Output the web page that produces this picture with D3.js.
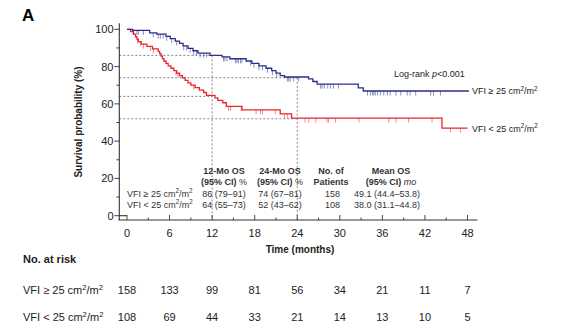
<!DOCTYPE html>
<html>
<head>
<meta charset="utf-8">
<script src="https://cdn.jsdelivr.net/npm/d3@7"></script>
<style>
  body { margin: 0; background: #fff; }
  svg { font-family: "Liberation Sans", Arial, sans-serif; }
</style>
</head>
<body>
<div id="km"></div>
<script>
// grupe
const groups = ["VFI ≥ 25 cm²/m²", "VFI < 25 cm²/m²"];
const xTicks = [0, 6, 12, 18, 24, 30, 36, 42, 48];
const yTicks = [0, 20, 40, 60, 80, 100];

// koraci krivulja [mjesec, prezivljenje %]
const highSteps = [[0.8, 99.4], [3.2, 98.1], [4.2, 97.4], [5.5, 96.2], [6.1, 95.0], [6.8, 93.7],
  [7.4, 92.4], [7.9, 91.1], [8.6, 89.8], [9.3, 88.5], [10.0, 87.2], [11.7, 86.0], [13.4, 85.2],
  [14.5, 84.2], [16.8, 83.0], [17.6, 81.7], [18.6, 80.4], [19.6, 79.1], [20.4, 77.8], [21.0, 76.5],
  [21.6, 75.2], [22.2, 74.4], [25.6, 73.4], [26.2, 72.0], [26.8, 70.6], [32.6, 68.6], [33.3, 66.9]];
const lowSteps = [[0.5, 98.7], [0.9, 97.4], [1.2, 96.0], [1.4, 94.7], [1.6, 93.4], [2.0, 92.1],
  [2.8, 90.8], [3.6, 89.5], [4.4, 88.2], [4.6, 86.9], [4.8, 85.6], [5.0, 84.3], [5.2, 83.0],
  [5.5, 81.7], [5.8, 80.4], [6.2, 79.1], [6.6, 77.8], [7.0, 76.5], [7.4, 75.2], [7.8, 73.9],
  [8.2, 72.6], [8.6, 71.3], [9.0, 70.0], [9.6, 68.7], [10.2, 67.4], [10.8, 66.1], [11.2, 64.6],
  [12.4, 63.2], [12.8, 61.9], [13.5, 60.6], [14.0, 58.6], [16.2, 56.8], [21.6, 54.6],
  [23.2, 52.4], [44.4, 47.0]];
const highEnd = 48.2;
const lowEnd = 48.0;

// cenzurirani
const highCensored = [0.9, 1.4, 1.6, 2.3, 3.7, 4.4, 4.7, 5.1, 5.6, 6.3, 7.0, 8.0, 8.4, 8.9, 9.4,
  9.8, 10.3, 10.8, 11.2, 13.6, 13.8, 14.1, 15.3, 15.5, 15.7, 16.0, 16.2, 17.4, 17.9, 18.6, 19.1,
  19.8, 20.5, 21.1, 22.6, 22.8, 23.0, 23.5, 24.2, 27.3, 27.5, 27.8, 28.3, 28.7, 29.1, 29.8, 33.9,
  34.3, 34.6, 34.8, 35.0, 35.3, 35.7, 36.2, 36.7, 37.1, 37.9, 38.6, 39.5, 39.9, 40.7, 42.8, 43.2, 44.2];
const lowCensored = [1.5, 1.9, 2.3, 3.3, 3.7, 6.9, 7.2, 9.4, 14.3, 14.6, 16.1, 18.2, 18.8, 19.1,
  20.9, 22.2, 22.6, 25.1, 25.6, 26.6, 28.2, 28.4, 29.4, 32.7, 36.9, 37.9, 39.7, 43.0, 45.6, 47.0];

// 12 i 24 mj. OS
const os12 = [86, 64];
const os24 = [74, 52];
const os12Text = ["86 (79–91)", "64 (55–73)"];
const os24Text = ["74 (67–81)", "52 (43–62)"];
const patients = [158, 108];
const meanOsText = ["49.1 (44.4–53.8)", "38.0 (31.1–44.8)"];

// broj pod rizikom
const atRiskHigh = [158, 133, 99, 81, 56, 34, 21, 11, 7];
const atRiskLow = [108, 69, 44, 33, 21, 14, 13, 10, 5];

const blue = "#2b2e8a";
const red = "#e8262b";

const width = 567, height = 332;
const svg = d3.select("#km").append("svg")
  .attr("width", width)
  .attr("height", height);

const x = d3.scaleLinear().domain([0, 48]).range([127, 467.5]);
const y = d3.scaleLinear().domain([0, 100]).range([215.7, 29.3]);
const axisY = 220, axisX = 119.3;

// slovo panela
svg.append("text").attr("x", 22).attr("y", 21)
  .attr("font-size", 17).attr("font-weight", "bold").text("A");

// isprekidane linije za 12 i 24 mj.
const dash = svg.append("g").attr("stroke", "#666").attr("stroke-width", 0.8)
  .attr("stroke-dasharray", "2,2").attr("fill", "none");
os12.forEach(v => dash.append("line").attr("x1", axisX).attr("x2", x(12)).attr("y1", y(v)).attr("y2", y(v)));
os24.forEach(v => dash.append("line").attr("x1", axisX).attr("x2", x(24)).attr("y1", y(v)).attr("y2", y(v)));
dash.append("line").attr("x1", x(12)).attr("x2", x(12)).attr("y1", y(d3.max(os12))).attr("y2", axisY);
dash.append("line").attr("x1", x(24)).attr("x2", x(24)).attr("y1", y(d3.max(os24))).attr("y2", axisY);

// osi
const ax = svg.append("g").attr("stroke", "#333").attr("stroke-width", 1.1);
ax.append("line").attr("x1", axisX).attr("x2", axisX).attr("y1", y(100) - 6).attr("y2", axisY);
ax.append("line").attr("x1", axisX - 1).attr("x2", x(48) + 10).attr("y1", axisY).attr("y2", axisY);
ax.append("line").attr("x1", axisX).attr("x2", x(0)).attr("y1", y(0)).attr("y2", y(0));

d3.range(0, 101, 10).forEach(v => {
  ax.append("line").attr("x1", axisX - (v % 20 === 0 ? 5 : 3)).attr("x2", axisX)
    .attr("y1", y(v)).attr("y2", y(v)).attr("stroke-width", 0.9);
});
d3.range(0, 49, 3).forEach(v => {
  ax.append("line").attr("x1", x(v)).attr("x2", x(v))
    .attr("y1", axisY).attr("y2", axisY - (v % 6 === 0 ? 5 : 2.5)).attr("stroke-width", 0.9);
});

svg.append("g").selectAll("text").data(yTicks).join("text")
  .attr("x", 113.5).attr("y", d => y(d) + 4)
  .attr("text-anchor", "end").attr("font-size", 11).attr("fill", "#222")
  .text(d => d);
svg.append("g").selectAll("text").data(xTicks).join("text")
  .attr("x", d => x(d)).attr("y", 237)
  .attr("text-anchor", "middle").attr("font-size", 11).attr("fill", "#222")
  .text(d => d);

svg.append("text").attr("x", 300).attr("y", 252.5).attr("text-anchor", "middle")
  .attr("font-size", 10).attr("font-weight", "bold").attr("fill", "#222").text("Time (months)");
svg.append("text").attr("transform", "translate(81.5,122) rotate(-90)").attr("text-anchor", "middle")
  .attr("font-size", 10).attr("font-weight", "bold").attr("fill", "#222").text("Survival probability (%)");

// krivulje
function levelAt(steps, t) {
  let s = 100;
  steps.forEach(d => { if (d[0] <= t) s = d[1]; });
  return s;
}
const line = d3.line().x(d => x(d[0])).y(d => y(d[1])).curve(d3.curveStepAfter);

function drawCurve(steps, end, censored, color) {
  const pts = [[0, 100], ...steps, [end, steps[steps.length - 1][1]]];
  svg.append("path").datum(pts).attr("d", line)
    .attr("fill", "none").attr("stroke", color).attr("stroke-width", 1.3);
  svg.append("g").selectAll("line").data(censored).join("line")
    .attr("x1", d => x(d)).attr("x2", d => x(d))
    .attr("y1", d => y(levelAt(steps, d))).attr("y2", d => y(levelAt(steps, d)) + 4.5)
    .attr("stroke", color).attr("stroke-width", 0.9).attr("opacity", 0.6);
}
drawCurve(lowSteps, lowEnd, lowCensored, red);
drawCurve(highSteps, highEnd, highCensored, blue);

// oznake krivulja
const lbl = svg.append("g").attr("font-size", 9).attr("fill", "#222");
function supLabel(g, text, xx, yy, size) {
  const t = g.append("text").attr("x", xx).attr("y", yy).attr("font-size", size);
  const parts = text.split(/(²)/);
  parts.forEach(p => {
    if (p === "²") t.append("tspan").attr("font-size", size * 0.7).attr("dy", -size * 0.35).text("2");
    else if (p) {
      const sp = t.append("tspan").text(p);
      if (t.node().childNodes.length > 1 && t.node().childNodes[t.node().childNodes.length - 2].textContent === "2")
        sp.attr("dy", size * 0.35);
    }
  });
  return t;
}
supLabel(lbl, groups[0], 472, y(highSteps[highSteps.length - 1][1]) + 3.5, 9);
supLabel(lbl, groups[1], 472, y(lowSteps[lowSteps.length - 1][1]) + 3.5, 9);
const lr = lbl.append("text").attr("x", 394).attr("y", 77);
lr.append("tspan").text("Log-rank ");
lr.append("tspan").attr("font-style", "italic").text("p");
lr.append("tspan").text("<0.001");

// tablica u grafu
const tb = svg.append("g").attr("font-size", 9).attr("fill", "#333");
const cols = [224, 280, 331, 391];
const h1 = ["12-Mo OS", "24-Mo OS", "No. of", "Mean OS"];
h1.forEach((h, i) => tb.append("text").attr("x", cols[i]).attr("y", 173.5)
  .attr("text-anchor", "middle").attr("font-weight", "bold").text(h));
[["(95% CI)", " %"], ["(95% CI)", " %"], ["Patients", ""], ["(95% CI)", " mo"]].forEach((h, i) => {
  const t = tb.append("text").attr("x", cols[i]).attr("y", 184.5).attr("text-anchor", "middle");
  t.append("tspan").attr("font-weight", "bold").text(h[0]);
  if (h[1]) t.append("tspan").attr("font-style", i === 3 ? "italic" : "normal").text(h[1]);
});
[0, 1].forEach(r => {
  const yy = 196.5 + r * 11;
  supLabel(tb, groups[r], 127, yy, 9);
  tb.append("text").attr("x", cols[0]).attr("y", yy).attr("text-anchor", "middle").text(os12Text[r]);
  tb.append("text").attr("x", cols[1]).attr("y", yy).attr("text-anchor", "middle").text(os24Text[r]);
  tb.append("text").attr("x", cols[2] + 1.5).attr("y", yy).attr("text-anchor", "middle").text(patients[r]);
  tb.append("text").attr("x", cols[3] - 4).attr("y", yy).attr("text-anchor", "middle").text(meanOsText[r]);
});

// broj pod rizikom
const rk = svg.append("g").attr("font-size", 11).attr("fill", "#222");
rk.append("text").attr("x", 23).attr("y", 263).attr("font-weight", "bold").text("No. at risk");
[atRiskHigh, atRiskLow].forEach((row, r) => {
  const yy = 294 + r * 26.5;
  supLabel(rk, groups[r], 23, yy, 11);
  rk.selectAll(null).data(row).join("text")
    .attr("x", (d, i) => x(xTicks[i])).attr("y", yy)
    .attr("text-anchor", "middle").text(d => d);
});
</script>
</body>
</html>
